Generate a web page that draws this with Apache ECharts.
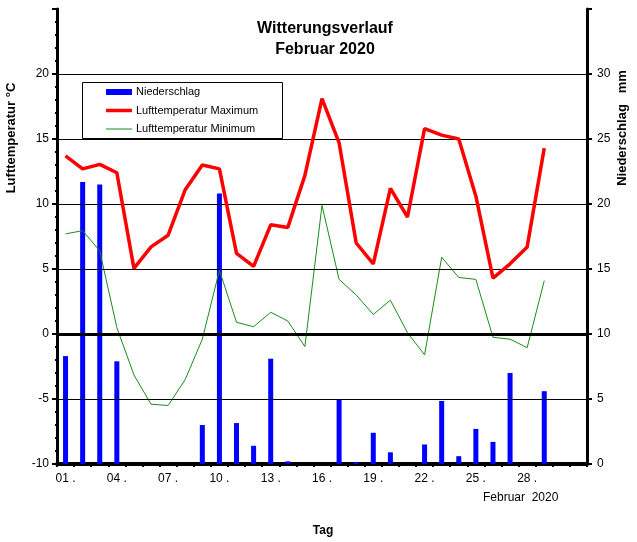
<!DOCTYPE html>
<html>
<head>
<meta charset="utf-8">
<script src="https://cdn.jsdelivr.net/npm/echarts@6/dist/echarts.min.js"></script>
<style>
html,body{margin:0;padding:0;background:#fff;}
#chart{width:637px;height:542px;}
</style>
</head>
<body>
<div id="chart"></div>
<script>
// Day labels (31 category slots, February 2020 has 29 days)
const dayLabels = ['01','02','03','04','05','06','07','08','09','10','11','12','13','14','15','16','17','18','19','20','21','22','23','24','25','26','27','28','29','',''];
// Niederschlag (mm)
const niederschlag = [8.3,21.7,21.5,7.9,0,0,0,0,3.0,20.8,3.15,1.4,8.1,0.2,0,0,5.0,0.15,2.4,0.9,0,1.5,4.85,0.6,2.7,1.7,7.0,0,5.6];
// Lufttemperatur Maximum (°C)
const tempMax = [13.7,12.7,13.05,12.4,5.05,6.7,7.6,11.1,13.0,12.7,6.2,5.2,8.4,8.2,12.2,18.1,14.7,7.0,5.4,11.2,9.0,15.8,15.3,15.0,10.6,4.3,5.4,6.7,14.3];
// Lufttemperatur Minimum (°C)
const tempMin = [7.7,7.95,6.4,0.5,-3.15,-5.4,-5.5,-3.5,-0.4,4.9,0.9,0.56,1.67,1.0,-0.97,9.9,4.2,3.0,1.5,2.6,0.1,-1.6,5.9,4.35,4.2,-0.25,-0.4,-1.05,4.1];
// Tick label values
const tempTicks = [-10,-5,0,5,10,15,20];
const rainTicks = [0,5,10,15,20,25,30];
const gridTemps = [20,15,10,5,-5];

const FONT = 'Liberation Sans';
const chart = echarts.init(document.getElementById('chart'));

const option = {
  animation: false,
  backgroundColor: '#ffffff',
  textStyle: { fontFamily: FONT },
  title: {
    text: 'Witterungsverlauf\nFebruar 2020',
    left: 320, top: 13, textAlign: 'center',
    textStyle: { fontFamily: FONT, fontSize: 16, fontWeight: 'bold', color: '#000', lineHeight: 21 }
  },
  grid: { left: 57, right: 50, top: 9, bottom: 78 },
  xAxis: {
    type: 'category',
    data: dayLabels,
    boundaryGap: true,
    axisLine: { onZero: false, lineStyle: { color: '#000', width: 4 } },
    axisTick: { show: true, interval: 0, length: 3, lineStyle: { color: '#000', width: 2 } },
    axisLabel: {
      interval: 2, margin: 9, color: '#000', fontFamily: FONT, fontSize: 12,
      formatter: function (v) { return v === '' ? '' : v + ' .'; }
    },
    splitLine: { show: false }
  },
  yAxis: [
    {
      type: 'value', min: -10, max: 25, interval: 5, position: 'left',
      axisLine: { show: true, onZero: false, lineStyle: { color: '#000', width: 3 } },
      axisTick: { show: true, length: 5, lineStyle: { color: '#000', width: 2 } },
      minorTick: { show: true, splitNumber: 5, length: 2, lineStyle: { color: '#000', width: 2 } },
      axisLabel: {
        margin: 8, color: '#000', fontFamily: FONT, fontSize: 12,
        formatter: function (v) { return tempTicks.indexOf(v) >= 0 ? String(v) : ''; }
      },
      splitLine: { show: false }
    },
    {
      type: 'value', min: 0, max: 35, interval: 5, position: 'right',
      axisLine: { show: true, onZero: false, lineStyle: { color: '#000', width: 3 } },
      axisTick: { show: true, length: 5, lineStyle: { color: '#000', width: 2 } },
      minorTick: { show: true, splitNumber: 5, length: 2, lineStyle: { color: '#000', width: 2 } },
      axisLabel: {
        margin: 10, color: '#000', fontFamily: FONT, fontSize: 12,
        formatter: function (v) { return rainTicks.indexOf(v) >= 0 ? String(v) : ''; }
      },
      splitLine: { show: false }
    }
  ],
  series: [
    {
      name: 'Niederschlag', type: 'bar', yAxisIndex: 1, data: niederschlag,
      barWidth: 5, itemStyle: { color: '#0000ff' }, z: 2
    },
    {
      name: 'Lufttemperatur Minimum', type: 'line', yAxisIndex: 0, data: tempMin,
      symbol: 'none', lineStyle: { color: '#1a8c1a', width: 1 }, z: 4,
      markLine: {
        silent: true, symbol: 'none', label: { show: false },
        lineStyle: { color: '#000', width: 1, type: 'solid' },
        data: gridTemps.map(function (t) { return { yAxis: t }; })
      }
    },
    {
      name: 'Lufttemperatur Maximum', type: 'line', yAxisIndex: 0, data: tempMax,
      symbol: 'none', lineStyle: { color: '#ff0000', width: 3.5 }, z: 5,
      markLine: {
        silent: true, symbol: 'none', label: { show: false },
        lineStyle: { color: '#000', width: 3, type: 'solid' },
        data: [{ yAxis: 0 }]
      }
    }
  ],
  graphic: [
    { type: 'text', x: 11, y: 138, rotation: Math.PI / 2,
      style: { text: 'Lufttemperatur °C', font: 'bold 13px ' + FONT, fill: '#000', textAlign: 'center', textVerticalAlign: 'middle' } },
    { type: 'text', x: 622, y: 128, rotation: Math.PI / 2,
      style: { text: 'Niederschlag   mm', font: 'bold 13px ' + FONT, fill: '#000', textAlign: 'center', textVerticalAlign: 'middle' } },
    { type: 'text', x: 323, y: 531,
      style: { text: 'Tag', font: 'bold 12px ' + FONT, fill: '#000', textAlign: 'center', textVerticalAlign: 'middle' } },
    { type: 'text', x: 483, y: 498,
      style: { text: 'Februar  2020', font: '12px ' + FONT, fill: '#000', textAlign: 'left', textVerticalAlign: 'middle' } },
    { type: 'group', z: 100, children: [
      { type: 'rect', shape: { x: 82.5, y: 82.5, width: 200, height: 56 },
        style: { fill: '#fff', stroke: '#000', lineWidth: 1 } },
      { type: 'rect', shape: { x: 106, y: 89, width: 26, height: 6 }, style: { fill: '#0000ff' } },
      { type: 'line', shape: { x1: 106, y1: 110.5, x2: 132, y2: 110.5 }, style: { stroke: '#ff0000', lineWidth: 3.5 } },
      { type: 'line', shape: { x1: 106, y1: 129, x2: 132, y2: 129 }, style: { stroke: '#1a8c1a', lineWidth: 1 } },
      { type: 'text', x: 136, y: 92, style: { text: 'Niederschlag', font: '11px ' + FONT, fill: '#000', textVerticalAlign: 'middle' } },
      { type: 'text', x: 136, y: 110.5, style: { text: 'Lufttemperatur Maximum', font: '11px ' + FONT, fill: '#000', textVerticalAlign: 'middle' } },
      { type: 'text', x: 136, y: 129, style: { text: 'Lufttemperatur Minimum', font: '11px ' + FONT, fill: '#000', textVerticalAlign: 'middle' } }
    ] }
  ]
};
chart.setOption(option);
</script>
</body>
</html>
